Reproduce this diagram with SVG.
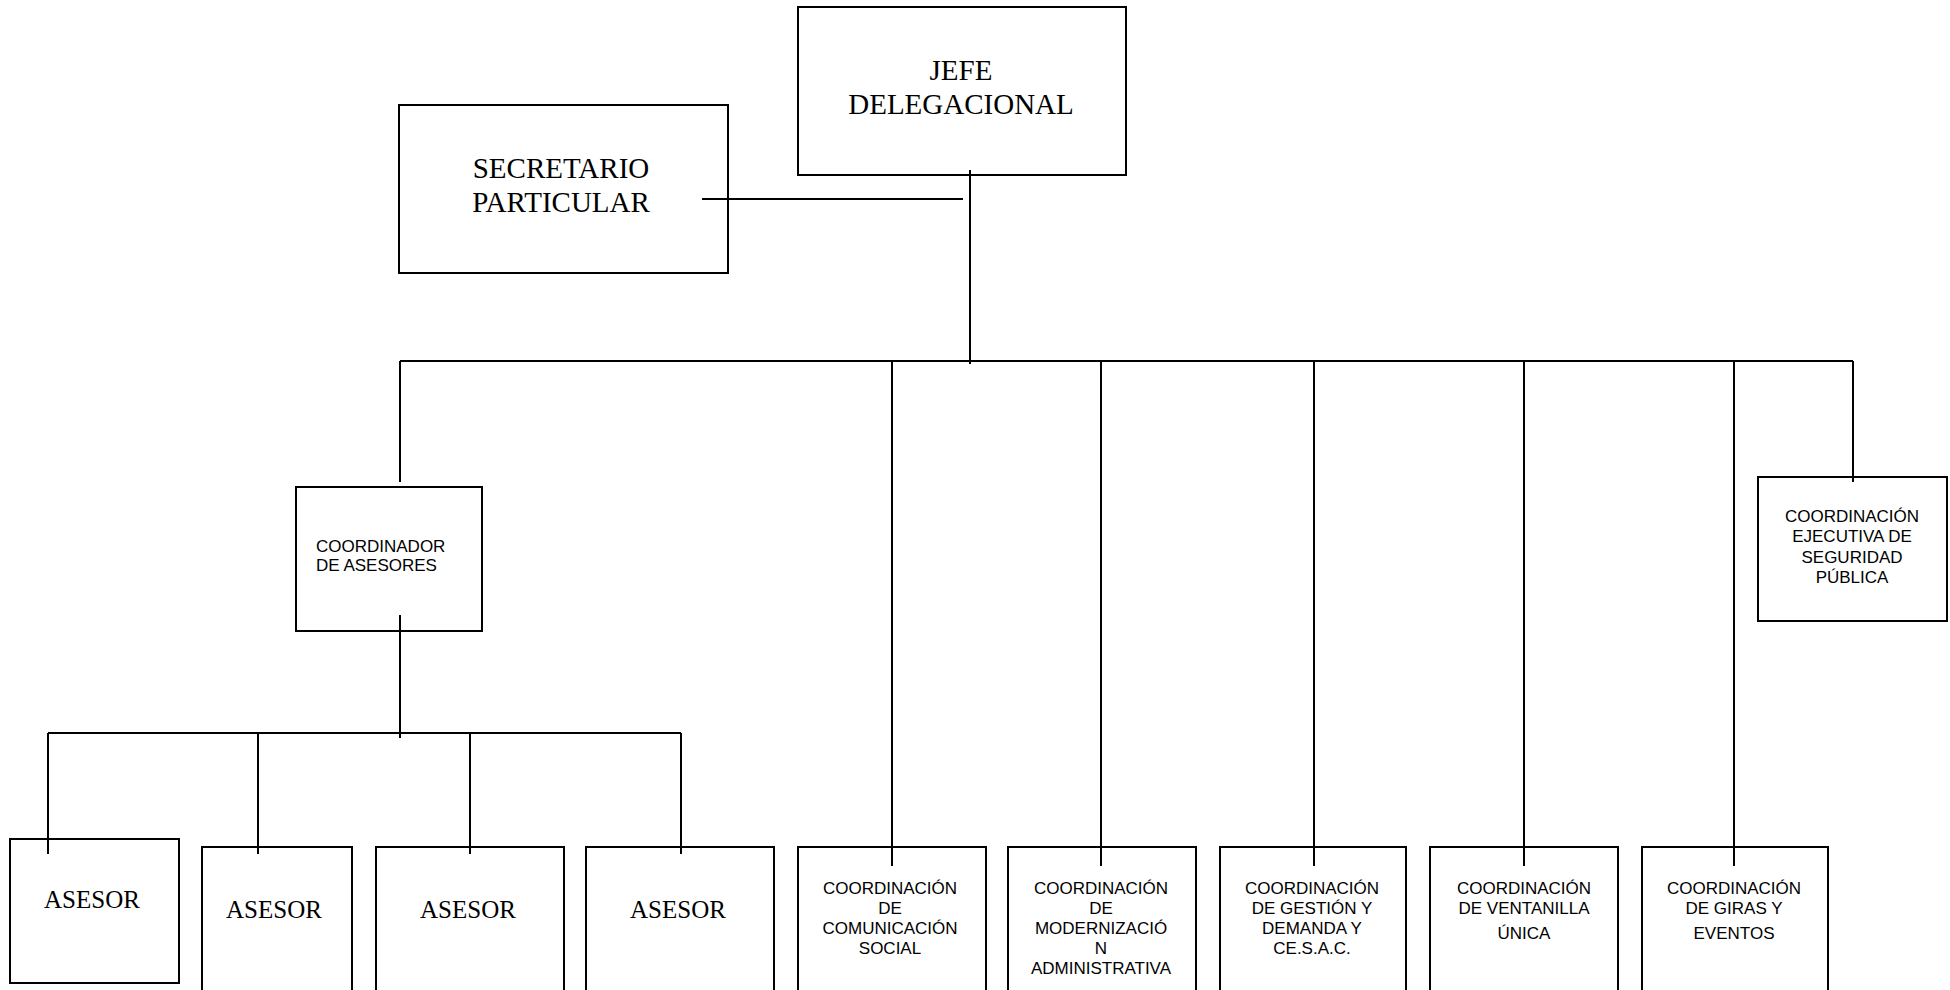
<svg xmlns="http://www.w3.org/2000/svg" width="1950" height="990" viewBox="0 0 1950 990">
<style>
.box{fill:none;stroke:#000;stroke-width:2}
.ln{stroke:#000;stroke-width:2;fill:none}
.serif{font-family:"Liberation Serif","Times New Roman",serif;fill:#000}
.big{font-size:29px}
.ase{font-size:25px}
.sans{font-family:"Liberation Sans",Arial,sans-serif;font-size:17px;fill:#000}
.c{text-anchor:middle}
</style>
<rect width="1950" height="990" fill="#fff"/>
<g id="connectors">
<line class="ln" x1="970" y1="170" x2="970" y2="364"/>
<line class="ln" x1="702" y1="199" x2="963" y2="199"/>
<line class="ln" x1="400" y1="361" x2="1853" y2="361"/>
<line class="ln" x1="400" y1="361" x2="400" y2="482"/>
<line class="ln" x1="892" y1="361" x2="892" y2="866"/>
<line class="ln" x1="1101" y1="361" x2="1101" y2="866"/>
<line class="ln" x1="1314" y1="361" x2="1314" y2="866"/>
<line class="ln" x1="1524" y1="361" x2="1524" y2="866"/>
<line class="ln" x1="1734" y1="361" x2="1734" y2="866"/>
<line class="ln" x1="1853" y1="361" x2="1853" y2="482"/>
<line class="ln" x1="400" y1="615" x2="400" y2="738"/>
<line class="ln" x1="48" y1="733" x2="681" y2="733"/>
<line class="ln" x1="48" y1="733" x2="48" y2="854"/>
<line class="ln" x1="258" y1="733" x2="258" y2="854"/>
<line class="ln" x1="470" y1="733" x2="470" y2="854"/>
<line class="ln" x1="681" y1="733" x2="681" y2="854"/>
</g>
<g id="jefe">
<rect class="box" x="798" y="7" width="328" height="168"/>
<text class="serif big c" x="961" y="80">JEFE</text>
<text class="serif big c" x="961" y="114">DELEGACIONAL</text>
</g>
<g id="secretario">
<rect class="box" x="399" y="105" width="329" height="168"/>
<text class="serif big c" x="561" y="178">SECRETARIO</text>
<text class="serif big c" x="561" y="212">PARTICULAR</text>
</g>
<g id="coordinador">
<rect class="box" x="296" y="487" width="186" height="144"/>
<text class="sans" x="316" y="552">COORDINADOR</text>
<text class="sans" x="316" y="571">DE ASESORES</text>
</g>
<g id="seguridad">
<rect class="box" x="1758" y="477" width="189" height="144"/>
<text class="sans c" x="1852" y="522">COORDINACIÓN</text>
<text class="sans c" x="1852" y="542">EJECUTIVA DE</text>
<text class="sans c" x="1852" y="563">SEGURIDAD</text>
<text class="sans c" x="1852" y="583">PÚBLICA</text>
</g>
<g id="asesor1">
<rect class="box" x="10" y="839" width="169" height="144"/>
<text class="serif ase c" x="92" y="908">ASESOR</text>
</g>
<g id="asesor2">
<rect class="box" x="202" y="847" width="150" height="170"/>
<text class="serif ase c" x="274" y="918">ASESOR</text>
</g>
<g id="asesor3">
<rect class="box" x="376" y="847" width="188" height="170"/>
<text class="serif ase c" x="468" y="918">ASESOR</text>
</g>
<g id="asesor4">
<rect class="box" x="586" y="847" width="188" height="170"/>
<text class="serif ase c" x="678" y="918">ASESOR</text>
</g>
<g id="comunicacion">
<rect class="box" x="798" y="847" width="188" height="170"/>
<text class="sans c" x="890" y="894">COORDINACIÓN</text>
<text class="sans c" x="890" y="914">DE</text>
<text class="sans c" x="890" y="934">COMUNICACIÓN</text>
<text class="sans c" x="890" y="954">SOCIAL</text>
</g>
<g id="modernizacion">
<rect class="box" x="1008" y="847" width="188" height="170"/>
<text class="sans c" x="1101" y="894">COORDINACIÓN</text>
<text class="sans c" x="1101" y="914">DE</text>
<text class="sans c" x="1101" y="934">MODERNIZACIÓ</text>
<text class="sans c" x="1101" y="954">N</text>
<text class="sans c" x="1101" y="974">ADMINISTRATIVA</text>
</g>
<g id="gestion">
<rect class="box" x="1220" y="847" width="186" height="170"/>
<text class="sans c" x="1312" y="894">COORDINACIÓN</text>
<text class="sans c" x="1312" y="914">DE GESTIÓN Y</text>
<text class="sans c" x="1312" y="934">DEMANDA Y</text>
<text class="sans c" x="1312" y="954">CE.S.A.C.</text>
</g>
<g id="ventanilla">
<rect class="box" x="1430" y="847" width="188" height="170"/>
<text class="sans c" x="1524" y="894">COORDINACIÓN</text>
<text class="sans c" x="1524" y="914">DE VENTANILLA</text>
<text class="sans c" x="1524" y="939">ÚNICA</text>
</g>
<g id="giras">
<rect class="box" x="1642" y="847" width="186" height="170"/>
<text class="sans c" x="1734" y="894">COORDINACIÓN</text>
<text class="sans c" x="1734" y="914">DE GIRAS Y</text>
<text class="sans c" x="1734" y="939">EVENTOS</text>
</g>
</svg>
